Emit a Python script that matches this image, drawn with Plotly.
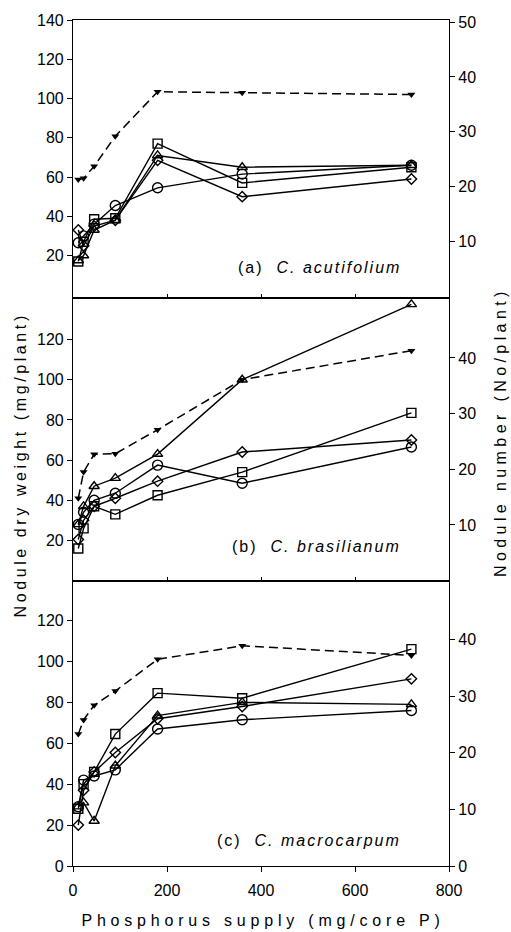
import plotly.graph_objects as go

# ---------------- data ----------------
phosphorus = [11.25, 22.5, 45, 90, 180, 360, 720]

# panel (a) C. acutifolium  (dry weight, mg/plant, left axis)
a_circle = [26.5, 30, 36, 45.5, 54.5, 61.5, 66]
a_square = [17, 27, 38.5, 39, 77, 57, 65]
a_triangle = [17.5, 20, 33, 38, 71, 65, 66]
a_diamond = [33, 25, 35, 38, 68.5, 50, 59]
a_number = [21.3, 21.5, 23.7, 29.2, 37.3, 37.1, 36.8]   # right axis

# panel (b) C. brasilianum
b_circle = [28, 34, 40, 43.5, 57.5, 48.5, 66.5]
b_square = [16, 26, 37, 33, 42.5, 54, 83.5]
b_triangle = [28, 37, 47, 51, 63, 100, 137.5]
b_diamond = [20.5, 30, 37, 41, 49.5, 64, 70]
b_number = [14.8, 19.5, 22.7, 22.8, 27.1, 36.1, 41.3]

# panel (c) C. macrocarpum
c_circle = [29, 42, 44, 47, 67, 71.5, 76]
c_square = [28, 40, 46, 64.5, 84.5, 82, 106]
c_triangle = [29, 31, 22, 49, 73.5, 80, 79]
c_diamond = [20, 37, 46, 55.5, 72, 78, 91.5]
c_number = [23.3, 25.8, 28.4, 30.9, 36.5, 38.9, 37.2]

panel_labels = ["(a)  <i>C. acutifolium</i>", "(b)  <i>C. brasilianum</i>",
                "(c)  <i>C. macrocarpum</i>"]
x_ticks = [0, 200, 400, 600, 800]
left_ticks = [[20, 40, 60, 80, 100, 120, 140], [20, 40, 60, 80, 100, 120],
              [0, 20, 40, 60, 80, 100, 120]]
right_ticks = [[10, 20, 30, 40, 50], [10, 20, 30, 40], [0, 10, 20, 30, 40]]

x_title = "Phosphorus supply (mg/core P)"
y_title = "Nodule dry weight (mg/plant)"
y2_title = "Nodule number (No/plant)"

# ---------------- figure ----------------
FONT = "Liberation Sans, Arial, sans-serif"
fig = go.Figure()

panels = [
    (a_circle, a_square, a_triangle, a_diamond, a_number),
    (b_circle, b_square, b_triangle, b_diamond, b_number),
    (c_circle, c_square, c_triangle, c_diamond, c_number),
]
symbols = [("circle-open", 10), ("square-open", 9), ("triangle-up-open", 9),
           ("diamond-open", 8)]

for i, (circ, sq, tri, dia, num) in enumerate(panels):
    xa = "x" if i == 0 else f"x{i+1}"
    yl = "y" if i == 0 else f"y{2*i+1}"
    yr = f"y{2*i+2}"
    for series, (sym, size) in zip([circ, sq, tri, dia], symbols):
        fig.add_trace(go.Scatter(
            x=phosphorus, y=series, mode="lines+markers", xaxis=xa, yaxis=yl,
            line=dict(color="black", width=1.4),
            marker=dict(symbol=sym, size=size, color="black",
                        line=dict(color="black", width=1.4)),
            showlegend=False, hoverinfo="skip"))
    fig.add_trace(go.Scatter(
        x=phosphorus, y=num, mode="lines+markers", xaxis=xa, yaxis=yr,
        line=dict(color="black", width=1.5, dash="9px,5px"),
        marker=dict(symbol="triangle-down", size=7, color="black"),
        showlegend=False, hoverinfo="skip"))

domains = [[0.671, 1.0], [0.3373, 0.671], [0.0, 0.3373]]
left_ranges = [[-1.8, 140], [0, 140.5], [0, 139.5]]
right_ranges = [[-0.4, 50.4], [0, 50.7], [0, 50.4]]

axis_common = dict(showline=True, linecolor="black", linewidth=1.2,
                   showgrid=False, zeroline=False,
                   tickfont=dict(family=FONT, size=16, color="black"),
                   tickcolor="black", tickwidth=1.3)

layout = dict(
    width=511, height=932,
    margin=dict(l=73, r=62, t=15, b=66, pad=0),
    paper_bgcolor="white", plot_bgcolor="white",
    showlegend=False,
    font=dict(family=FONT, size=16, color="black"),
)

for i in range(3):
    xk = "xaxis" if i == 0 else f"xaxis{i+1}"
    ylk = "yaxis" if i == 0 else f"yaxis{2*i+1}"
    yrk = f"yaxis{2*i+2}"
    yl = "y" if i == 0 else f"y{2*i+1}"
    xa = "x" if i == 0 else f"x{i+1}"
    last = (i == 2)
    layout[xk] = dict(axis_common, domain=[0, 1], range=[0, 800], anchor=yl,
                      mirror=True, tickvals=x_ticks if last else [200, 400, 600],
                      showticklabels=last, ticks="outside" if last else "inside",
                      ticklen=5 if last else 4, ticklabelstandoff=5)
    layout[ylk] = dict(axis_common, domain=domains[i], range=left_ranges[i],
                       anchor=xa, tickvals=left_ticks[i], ticks="outside",
                       ticklen=5)
    layout[yrk] = dict(axis_common, overlaying=yl, side="right",
                       range=right_ranges[i], anchor=xa,
                       tickvals=right_ticks[i], ticks="outside", ticklen=5)

fig.update_layout(**layout)

# panel labels
label_y = [14, 17, 12.6]
for i in range(3):
    xa = "x" if i == 0 else f"x{i+1}"
    yl = "y" if i == 0 else f"y{2*i+1}"
    fig.add_annotation(text=panel_labels[i], x=662, y=label_y[i],
                       xref=xa, yref=yl, xanchor="right", yanchor="middle",
                       showarrow=False,
                       font=dict(family=FONT, size=16, color="black"))

# axis titles
fig.add_annotation(text=x_title, xref="paper", yref="paper",
                   x=0.504, y=-0.0645, xanchor="center", yanchor="middle",
                   showarrow=False, font=dict(family=FONT, size=16, color="black"))
fig.add_annotation(text=y_title, xref="paper", yref="paper",
                   x=-0.141, y=0.475, xanchor="center", yanchor="middle",
                   textangle=-90, showarrow=False,
                   font=dict(family=FONT, size=16, color="black"))
fig.add_annotation(text=y2_title, xref="paper", yref="paper",
                   x=1.136, y=0.513, xanchor="center", yanchor="middle",
                   textangle=-90, showarrow=False,
                   font=dict(family=FONT, size=16, color="black"))

css = (
    'text[data-unformatted^="Phosphorus"]{letter-spacing:4.8px;}'
    'text[data-unformatted^="Nodule dry"]{letter-spacing:3.6px;}'
    'text[data-unformatted^="Nodule number"]{letter-spacing:4.4px;}'
    'text[data-unformatted^="("]{letter-spacing:2px;}'
)
post = ("var s=document.createElement('style');s.textContent='" + css +
        "';document.head.appendChild(s);")

fig.write_html("out.html", post_script=post)
